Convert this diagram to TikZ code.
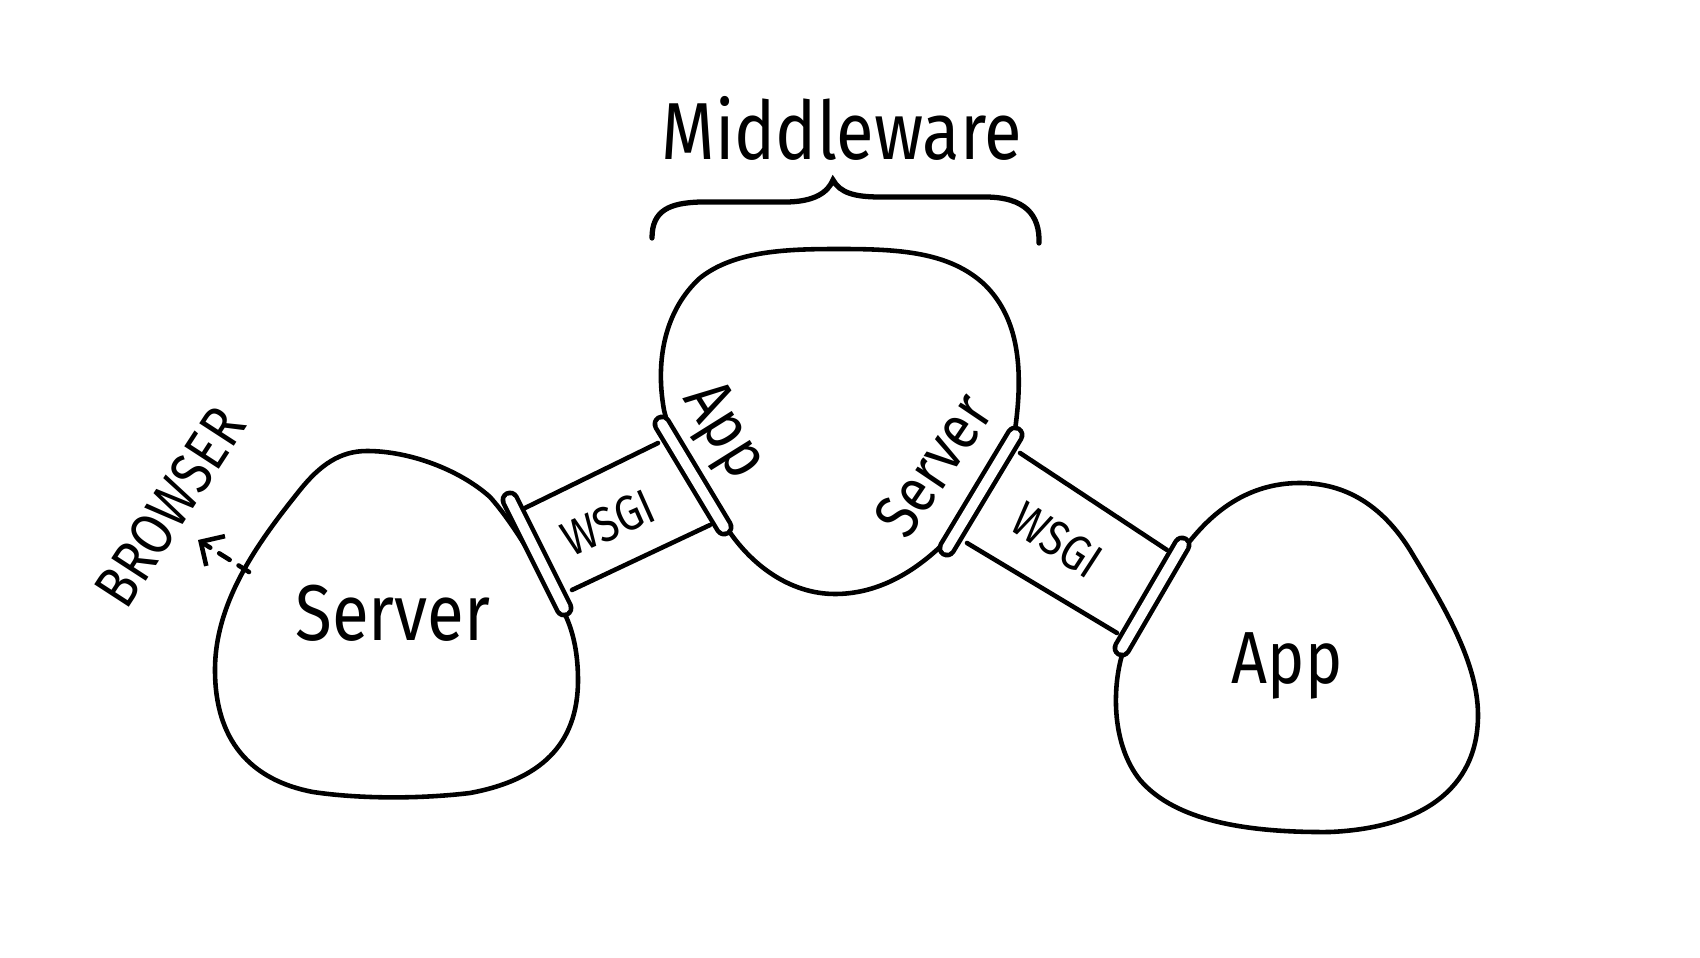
\documentclass[tikz,border=0pt]{standalone}
\usepackage{fontspec}
\setmainfont{Fira Sans}[FakeStretch=0.85]
\usetikzlibrary{arrows.meta}

\tikzset{
   blob/.style={line width=1.3pt, line join=round},
   tube/.style={line width=1.3pt, line cap=round},
   plug/.style={line width=1.3pt, double=white, double distance=2.8pt, line cap=round},
   brace/.style={line width=1.5pt, line cap=round},
   hand/.style={inner sep=0pt, font=\fontsize{#1pt}{#1pt}\selectfont},
}

\begin{document}
\begin{tikzpicture}[x=0.01cm,y=-0.01cm]
            \useasboundingbox (0,0) rectangle (1700,958);

            % the three blobs
            \draw [blob]
               (367,451) .. controls (410,451) and (460,470) .. (490,497)
               .. controls (515,525) and (540,570) .. (560,605)
               .. controls (572,625) and (578,650) .. (578,680)
               .. controls (578,745) and (540,780) .. (470,793)
               .. controls (420,799) and (360,799) .. (313,792)
               .. controls (250,780) and (215,740) .. (215,670)
               .. controls (215,600) and (260,540) .. (300,490)
               .. controls (320,465) and (340,451) .. (367,451) -- cycle;
            \draw [blob]
               (840,249) .. controls (900,249) and (950,252) .. (985,285)
               .. controls (1015,315) and (1025,360) .. (1015,430)
               .. controls (1000,480) and (970,520) .. (940,547)
               .. controls (910,575) and (875,594) .. (835,594)
               .. controls (790,594) and (750,565) .. (725,525)
               .. controls (700,490) and (672,445) .. (664,410)
               .. controls (655,360) and (665,310) .. (700,278)
               .. controls (735,250) and (790,249) .. (840,249) -- cycle;
            \draw [blob]
               (1300,483) .. controls (1350,483) and (1385,510) .. (1410,550)
               .. controls (1440,600) and (1478,660) .. (1478,715)
               .. controls (1478,790) and (1420,828) .. (1330,832)
               .. controls (1230,833) and (1170,815) .. (1140,780)
               .. controls (1112,745) and (1112,690) .. (1122,655)
               .. controls (1140,610) and (1165,570) .. (1195,535)
               .. controls (1225,500) and (1260,483) .. (1300,483) -- cycle;

            % wsgi tubes
            \draw [tube] (525,508) -- (658,443);
            \draw [tube] (572,590) -- (710,525);
            \draw [tube] (1020,453) -- (1167,550);
            \draw [tube] (967,543) -- (1117,633);

            \draw [plug] (510,500) -- (564,608);
            \draw [plug] (662,424) -- (724,527);
            \draw [plug] (1015,435) -- (947,548);
            \draw [plug] (1182,545) -- (1122,648);

            \draw [brace]
               (652,238) .. controls (652,210) and (670,203) .. (700,202) -- (785,202)
               .. controls (815,202) and (828,192) .. (833,180)
               .. controls (840,193) and (855,197) .. (880,197) -- (985,197)
               .. controls (1025,197) and (1040,215) .. (1039,243);

            \node [hand=23, anchor=base] (middleware) at (842,160) {Middleware};
            \node [hand=22.5, anchor=base] (server) at (393,640) {Server};
            \node [hand=21, anchor=base] (app) at (1287,683) {App};
            \node [hand=19, rotate=-58] (mwapp) at (722,432) {App};
            \node [hand=18, rotate=56] (mwserver) at (933,465) {Server};
            \node [hand=14, rotate=24] (wsgileft) at (608,523) {WSGI};
            \node [hand=14, rotate=-33] (wsgiright) at (1057,540) {WSGI};
            \node [hand=17, rotate=57] (browser) at (170,507) {BROWSER};

            \coordinate (exit) at (249,572);
            \coordinate (tip) at (198,540);
            \draw [tube, dash pattern=on 3.5pt off 3pt, -{Straight Barb[length=5pt,width=10pt]}]
               (exit) -- (tip);
\end{tikzpicture}
\end{document}
